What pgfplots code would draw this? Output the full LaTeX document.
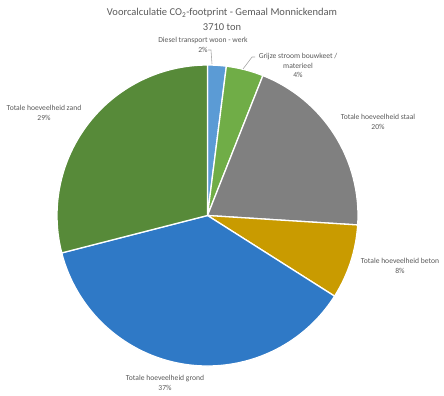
\documentclass[border=0pt]{standalone}
\usepackage{fontspec}
\setmainfont{Carlito}
\usepackage{pgfplots}
\usepackage{pgfplotstable}
\pgfplotsset{compat=1.18}
\definecolor{cDiesel}{HTML}{5B9BD5}
\definecolor{cGrijs}{HTML}{70AD47}
\definecolor{cStaal}{HTML}{808080}
\definecolor{cBeton}{HTML}{C99B00}
\definecolor{cGrond}{HTML}{2F79C6}
\definecolor{cZand}{HTML}{578A39}
\definecolor{txt}{HTML}{595959}
\definecolor{lead}{HTML}{A6A6A6}

\pgfplotstableread{
value color
2 cDiesel
4 cGrijs
20 cStaal
8 cBeton
37 cGrond
29 cZand
}\pietable

\begin{document}
\begin{tikzpicture}
\begin{axis}[
  at={(0,0)}, anchor=south west,
  x=1bp, y=1bp, xmin=0, xmax=444, ymin=0, ymax=396,
  hide axis, scale only axis, clip=false,
]
\gdef\cum{0}
\pgfplotsinvokeforeach{0,...,5}{
  \pgfplotstablegetelem{#1}{value}\of\pietable
  \let\v=\pgfplotsretval
  \pgfplotstablegetelem{#1}{color}\of\pietable
  \let\c=\pgfplotsretval
  \pgfmathsetmacro\a{90-3.6*\cum}
  \pgfmathsetmacro\b{90-3.6*(\cum+\v)}
  \edef\temp{\noexpand\fill[\c, draw=white, line width=1.3bp, line join=round] (axis cs:207.5,180.5) -- ++(\a:150.5bp) arc[start angle=\a, end angle=\b, radius=150.5bp] -- cycle;}
  \temp
  \pgfmathparse{\cum+\v}
  \xdef\cum{\pgfmathresult}
}
\draw[lead, line width=0.6bp] (axis cs:208,346) -- (axis cs:211,346) -- (axis cs:212,332);
\draw[lead, line width=0.6bp] (axis cs:255,339) -- (axis cs:252,339) -- (axis cs:243,327);
\begin{scope}[every node/.style={font=\fontsize{7.6bp}{9.8bp}\selectfont, text=txt, align=center, inner sep=0pt}]
\node at (axis cs:203,351.5) {Diesel transport woon - werk\\2\%};
\node at (axis cs:298,330.5) {Grijze stroom bouwkeet /\\materieel\\4\%};
\node at (axis cs:378,274) {Totale hoeveelheid staal\\20\%};
\node at (axis cs:400,130.5) {Totale hoeveelheid beton\\8\%};
\node at (axis cs:165,13) {Totale hoeveelheid grond\\37\%};
\node at (axis cs:44,283) {Totale hoeveelheid zand\\29\%};
\end{scope}
\node[font=\fontsize{10.5bp}{15bp}\selectfont, text=txt, align=center, inner sep=0pt] at (axis cs:222,376.5) {Voorcalculatie CO\textsubscript{2}-footprint - Gemaal Monnickendam\\3710 ton};
\end{axis}
\pgfresetboundingbox
\path[use as bounding box] (0,0) rectangle (444bp,396bp);
\end{tikzpicture}
\end{document}
